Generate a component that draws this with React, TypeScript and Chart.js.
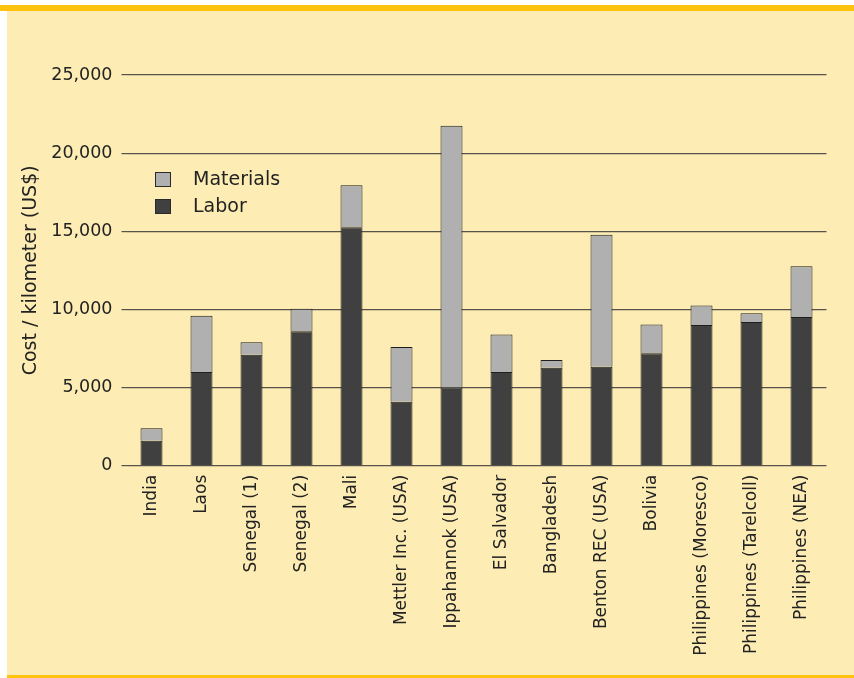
import { useEffect, useRef } from "react";
import { Chart, registerables } from "chart.js";

Chart.register(...registerables);

const categories = [
  "India",
  "Laos",
  "Senegal (1)",
  "Senegal (2)",
  "Mali",
  "Mettler Inc. (USA)",
  "Ippahannok (USA)",
  "El Salvador",
  "Bangladesh",
  "Benton REC (USA)",
  "Bolivia",
  "Philippines (Moresco)",
  "Philippines (Tarelcoll)",
  "Philippines (NEA)",
];

const laborValues = [1600, 6000, 7100, 8600, 15250, 4100, 5000, 6000, 6270, 6330, 7200, 9000, 9200, 9520];
const materialsValues = [800, 3600, 800, 1450, 2700, 3500, 16750, 2400, 500, 8450, 1830, 1250, 560, 3240];

const yTickValues = [0, 5000, 10000, 15000, 20000, 25000];

const seriesNames = ["Labor", "Materials"];
const seriesColors = ["#404040", "#b0b0b0"];

const FONT = "'DejaVu Sans', sans-serif";

export default function App() {
  const ref = useRef<HTMLCanvasElement | null>(null);

  useEffect(() => {
    document.body.style.margin = "0";
    const canvas = ref.current;
    if (!canvas) return;

    const legendPlugin = {
      id: "customLegend",
      afterDraw(chart: any) {
        const ctx = chart.ctx as CanvasRenderingContext2D;
        ctx.save();
        const items = [
          { name: seriesNames[1], color: seriesColors[1], y: 172 },
          { name: seriesNames[0], color: seriesColors[0], y: 199 },
        ];
        ctx.font = `19px ${FONT}`;
        ctx.textBaseline = "middle";
        ctx.textAlign = "left";
        for (const it of items) {
          ctx.fillStyle = it.color;
          ctx.fillRect(155, it.y, 16, 15);
          ctx.strokeStyle = "#2a2a2a";
          ctx.lineWidth = 1;
          ctx.strokeRect(155.5, it.y + 0.5, 15, 14);
          ctx.fillStyle = "#222222";
          ctx.fillText(it.name, 193, it.y + 8);
        }
        ctx.restore();
      },
    };

    const chart = new Chart(canvas, {
      type: "bar",
      data: {
        labels: categories,
        datasets: [
          {
            label: seriesNames[0],
            data: laborValues,
            backgroundColor: seriesColors[0],
            borderColor: "#1e1e1e",
            borderWidth: 1,
            barPercentage: 0.44,
            categoryPercentage: 1,
          },
          {
            label: seriesNames[1],
            data: materialsValues,
            backgroundColor: seriesColors[1],
            borderColor: "#1e1e1e",
            borderWidth: 1,
            barPercentage: 0.44,
            categoryPercentage: 1,
          },
        ],
      },
      options: {
        responsive: false,
        animation: false,
        devicePixelRatio: 1,
        layout: { padding: { left: 20, top: 75, right: 27.5, bottom: 0 } },
        plugins: {
          legend: { display: false },
          tooltip: { enabled: false },
        },
        scales: {
          x: {
            stacked: true,
            grid: { display: false, drawTicks: false },
            border: { display: false },
            ticks: {
              autoSkip: false,
              maxRotation: 90,
              minRotation: 90,
              padding: 9,
              color: "#222222",
              font: { family: FONT, size: 17 },
            },
            afterFit(scale: any) {
              scale.height = 212.3;
            },
          },
          y: {
            stacked: true,
            min: 0,
            max: 25000,
            afterBuildTicks(scale: any) {
              scale.ticks = yTickValues.map((v) => ({ value: v }));
            },
            ticks: {
              padding: 9,
              color: "#222222",
              font: { family: FONT, size: 17.5 },
              callback: (v: any) => Number(v).toLocaleString("en-US"),
            },
            grid: {
              color: "#57524a",
              lineWidth: 1.2,
              drawTicks: true,
              tickLength: 5,
              tickColor: "#57524a",
            },
            border: { display: false },
            title: {
              display: true,
              text: "Cost / kilometer (US$)",
              color: "#222222",
              font: { family: FONT, size: 19 },
              padding: { top: 0, bottom: 0 },
            },
            afterFit(scale: any) {
              scale.width = 106.5;
            },
          },
        },
      },
      plugins: [legendPlugin],
    });

    return () => chart.destroy();
  }, []);

  return (
    <div style={{ position: "relative", width: 854, height: 678, background: "#ffffff", overflow: "hidden" }}>
      <div style={{ position: "absolute", left: 7, top: 5, right: 0, bottom: 0, background: "#fdedb4" }} />
      <div style={{ position: "absolute", left: 0, top: 5, width: 854, height: 6, background: "#ffc20e" }} />
      <div style={{ position: "absolute", left: 7, top: 675, right: 0, height: 3, background: "#ffc20e" }} />
      <canvas ref={ref} width={854} height={678} style={{ position: "absolute", left: 0, top: 0 }} />
    </div>
  );
}
